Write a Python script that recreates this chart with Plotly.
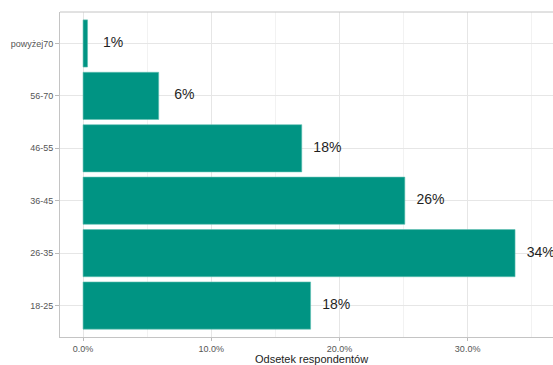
import math
import plotly.graph_objects as go

# Age groups (bottom to top) and share of respondents in percent
age_groups = ["18-25", "26-35", "36-45", "46-55", "56-70", "powyżej70"]
shares = [17.75, 33.7, 25.1, 17.06, 5.9, 0.35]
# Labels are the shares rounded up to whole percent
labels = [f"{math.ceil(v)}%" for v in shares]
label_offset = 2.0

x_ticks = [0, 10, 20, 30]
x_tick_text = ["0.0%", "10.0%", "20.0%", "30.0%"]

W, H = 553, 365
ml, mr, mt, mb = 60, 0, 12, 28

bar_color = "#009483"
grid_major = "#e6e6e6"
grid_minor = "#f2f2f2"
border = "#c4c4c4"

fig = go.Figure()
fig.add_trace(go.Bar(
    x=shares, y=age_groups, orientation="h", width=0.9,
    marker=dict(color=bar_color, line=dict(color="#5fbfb2", width=0.6)),
    hoverinfo="skip",
))
fig.add_trace(go.Scatter(
    x=[v + label_offset for v in shares], y=age_groups, mode="text",
    text=labels, textposition="middle center",
    textfont=dict(family="Liberation Sans, Arial, sans-serif", size=14, color="#1f1f1f"),
    hoverinfo="skip", cliponaxis=False,
))

fig.update_layout(
    width=W, height=H,
    margin=dict(l=ml, r=mr, t=mt, b=mb, pad=0),
    plot_bgcolor="white", paper_bgcolor="white",
    showlegend=False,
    font=dict(family="Liberation Sans, Arial, sans-serif"),
    xaxis=dict(
        range=[-1.8, 36.66],
        tickvals=x_ticks, ticktext=x_tick_text,
        tickfont=dict(size=9, color="#555555"),
        ticks="outside", ticklen=3, tickcolor="#bbbbbb",
        showgrid=True, gridcolor=grid_major, gridwidth=1,
        minor=dict(dtick=5, tick0=0, showgrid=True, gridcolor=grid_minor, gridwidth=1, ticks=""),
        showline=True, linecolor=border, linewidth=1,
        zeroline=False,
    ),
    yaxis=dict(
        type="category", categoryorder="array", categoryarray=age_groups,
        range=[-0.6, 5.6],
        tickfont=dict(size=9, color="#555555"),
        ticks="outside", ticklen=4, tickcolor="#bbbbbb",
        showgrid=True, gridcolor=grid_major, gridwidth=1,
        showline=True, linecolor=border, linewidth=1,
        zeroline=False,
    ),
    shapes=[dict(
        type="line", xref="paper", yref="paper", x0=0, x1=1, y0=1, y1=1,
        line=dict(color=border, width=1), layer="above",
    )],
    annotations=[dict(
        text="Odsetek respondentów", xref="paper", yref="paper",
        x=(311 - ml) / (W - ml - mr), y=-(359 - (H - mb)) / (H - mt - mb),
        xanchor="center", yanchor="middle", showarrow=False,
        font=dict(size=11, color="#222222"),
    )],
)

fig.write_html("out.html")
